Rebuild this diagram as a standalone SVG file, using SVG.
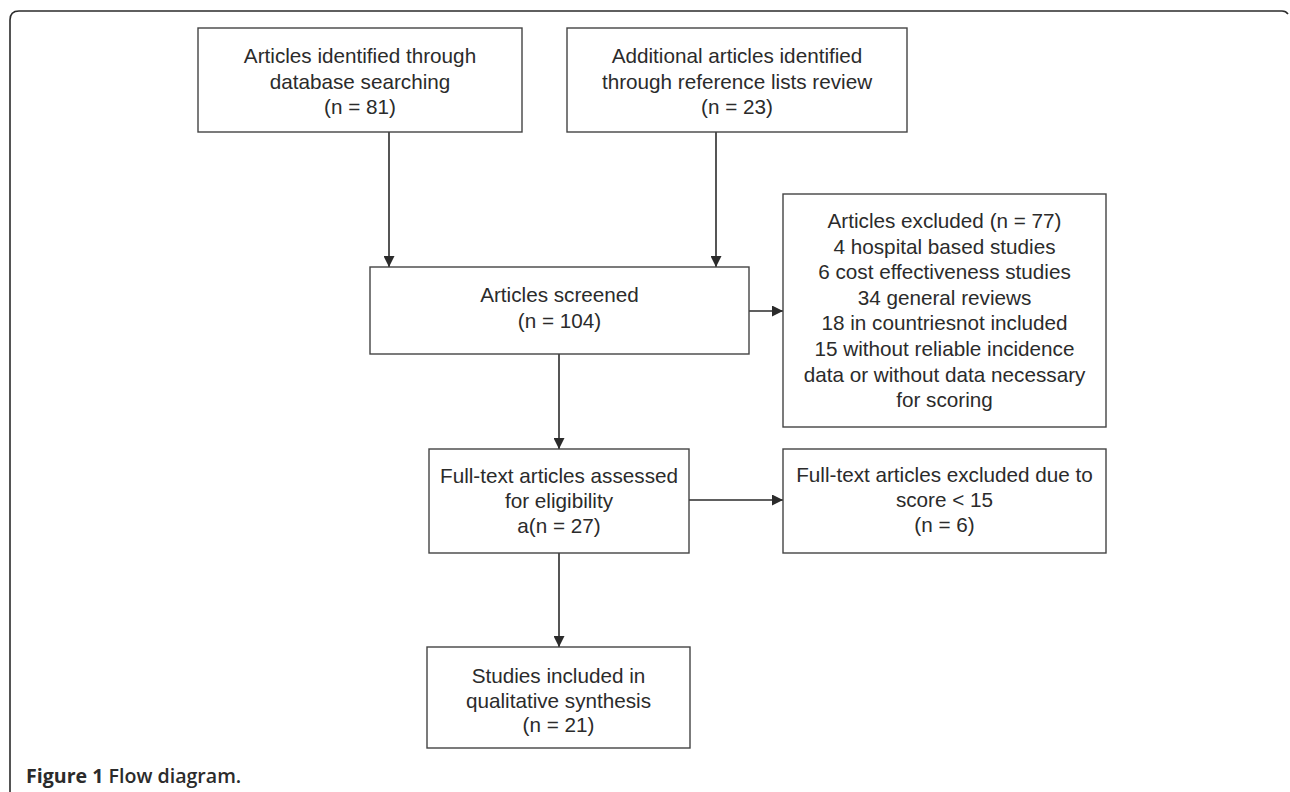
<svg xmlns="http://www.w3.org/2000/svg" width="1290" height="792" viewBox="0 0 1290 792">
<style>
.box{fill:#fff;stroke:#444;stroke-width:1.4}
.t{font-family:"Liberation Sans",Arial,sans-serif;font-size:20.7px;fill:#2b2b2b;text-anchor:middle}
.c{stroke:#2b2b2b;stroke-width:1.6;fill:none}
.frame{stroke:#2b2b2b;stroke-width:1.6;fill:none}
.cap{font-family:"Open Sans","Noto Sans",sans-serif;font-size:19.6px;fill:#2b2b2b}
</style>
<defs>
<marker id="ah" markerWidth="11" markerHeight="11" refX="11" refY="5.5" orient="auto" markerUnits="userSpaceOnUse">
<path d="M0,0 L11,5.5 L0,11 Z" fill="#2b2b2b"/>
</marker>
</defs>
<rect width="1290" height="792" fill="#fff"/>
<path class="frame" d="M10,792 L10,20 Q10,11 19,11 L1282,11 Q1286,11 1288,14"/>

<g id="connectors">
<line class="c" x1="389" y1="132" x2="389" y2="267" marker-end="url(#ah)"/>
<line class="c" x1="716" y1="132" x2="716" y2="267" marker-end="url(#ah)"/>
<line class="c" x1="749" y1="311" x2="783" y2="311" marker-end="url(#ah)"/>
<line class="c" x1="559" y1="354" x2="559" y2="449" marker-end="url(#ah)"/>
<line class="c" x1="689" y1="500" x2="783" y2="500" marker-end="url(#ah)"/>
<line class="c" x1="559" y1="553" x2="559" y2="647" marker-end="url(#ah)"/>
</g>

<g id="n1">
<rect class="box" x="198" y="28" width="324" height="104"/>
<text class="t" x="360" y="63">Articles identified through</text>
<text class="t" x="360" y="88.5">database searching</text>
<text class="t" x="360" y="114">(n = 81)</text>
</g>

<g id="n2">
<rect class="box" x="567" y="28" width="340" height="104"/>
<text class="t" x="737" y="63">Additional articles identified</text>
<text class="t" x="737" y="88.5">through reference lists review</text>
<text class="t" x="737" y="114">(n = 23)</text>
</g>

<g id="n3">
<rect class="box" x="370" y="267" width="379" height="87"/>
<text class="t" x="559.5" y="302">Articles screened</text>
<text class="t" x="559.5" y="328">(n = 104)</text>
</g>

<g id="n4">
<rect class="box" x="783" y="194" width="323" height="233"/>
<text class="t" x="944.5" y="228">Articles excluded (n = 77)</text>
<text class="t" x="944.5" y="253.6">4 hospital based studies</text>
<text class="t" x="944.5" y="279.2">6 cost effectiveness studies</text>
<text class="t" x="944.5" y="304.8">34 general reviews</text>
<text class="t" x="944.5" y="330.4">18 in countriesnot included</text>
<text class="t" x="944.5" y="356">15 without reliable incidence</text>
<text class="t" x="944.5" y="381.6">data or without data necessary</text>
<text class="t" x="944.5" y="407.2">for scoring</text>
</g>

<g id="n5">
<rect class="box" x="429" y="449" width="260" height="104"/>
<text class="t" x="559" y="483">Full-text articles assessed</text>
<text class="t" x="559" y="508">for eligibility</text>
<text class="t" x="559" y="533">a(n = 27)</text>
</g>

<g id="n6">
<rect class="box" x="783" y="449" width="323" height="104"/>
<text class="t" x="944.5" y="482">Full-text articles excluded due to</text>
<text class="t" x="944.5" y="507">score &lt; 15</text>
<text class="t" x="944.5" y="532">(n = 6)</text>
</g>

<g id="n7">
<rect class="box" x="427" y="647" width="263" height="101"/>
<text class="t" x="558.5" y="683">Studies included in</text>
<text class="t" x="558.5" y="707.5">qualitative synthesis</text>
<text class="t" x="558.5" y="732">(n = 21)</text>
</g>

<text class="cap" x="26" y="783"><tspan font-weight="700">Figure 1</tspan><tspan font-weight="600"> Flow diagram.</tspan></text>
</svg>
